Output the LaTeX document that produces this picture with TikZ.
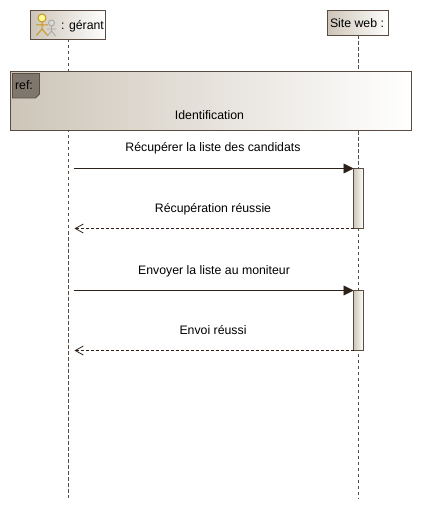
\documentclass[tikz,border=0pt]{standalone}
\usepackage{fontspec}
\setmainfont{Liberation Sans}
\usetikzlibrary{arrows.meta}
\definecolor{edgec}{HTML}{5A4C40}
\definecolor{fadec}{HTML}{CDC5B8}
\definecolor{tabc}{HTML}{7F776D}
\definecolor{inkc}{HTML}{2E2119}
\definecolor{goldc}{HTML}{C8961E}
\definecolor{greyc}{HTML}{A8A8A8}
\tikzset{
  x=1pt,y=-1pt,
  box/.style={draw=edgec,line width=0.9pt,left color=fadec,right color=white,shading angle=90},
  lifeline/.style={draw=edgec,line width=0.9pt,dash pattern=on 3.5pt off 2.5pt},
  callarrow/.style={draw=inkc,line width=0.9pt,-{Triangle[length=10pt,width=10pt]}},
  backarrow/.style={draw=inkc,line width=0.8pt,dash pattern=on 3pt off 2pt,-{Straight Barb[length=8pt,width=9pt]}},
  lbl/.style={font=\fontsize{12.3}{14}\selectfont,text=black,inner sep=0pt,anchor=base}
}
\begin{document}
\begin{tikzpicture}
\useasboundingbox (0,0) rectangle (421,510);
\fill[white] (0,0) rectangle (421,510);
% lifelines
\coordinate (g0) at (68.5,39);
\coordinate (g1) at (68.5,498);
\coordinate (s0) at (358.5,35.5);
\coordinate (s1) at (358.5,498);
\draw[lifeline] (g0) -- (g1);
\draw[lifeline] (s0) -- (s1);
% heads
\path[box] (30.5,10.5) rectangle (105.5,39.5);
\path[box] (327.5,10.5) rectangle (388.5,35.5);
\node[lbl] (gerant) at (82.5,30) {: gérant};
\node[lbl] (site) at (357,27.5) {Site web :};
% actor icons
\draw[greyc,line width=0.9pt,fill=black!15] (51.5,23) circle (3);
\draw[greyc,line width=0.9pt] (51.5,26) -- (51.5,31) (47,29) -- (56,29) (51.5,31) -- (47.5,36) (51.5,31) -- (55.5,36);
\draw[goldc,line width=1pt] (42,22) -- (42,29) (36,25) -- (48,25) (42,29) -- (36.5,35.5) (42,29) -- (47.5,35.5);
\draw[goldc,line width=1pt,fill=yellow!40] (42,18) circle (4);
% ref frame
\path[box] (10.5,71.5) rectangle (411.5,130.5);
\draw[edgec,line width=0.9pt,fill=tabc] (12.5,73.5) -- (39.5,73.5) -- (39.5,94) -- (35.5,98) -- (12.5,98) -- cycle;
\node[lbl] (reftxt) at (24,90) {ref:};
\node[lbl] (ident) at (209.5,120) {Identification};
% activations
\path[box] (353.5,168.5) rectangle (363.5,228);
\path[box] (353.5,290.5) rectangle (363.5,350);
% messages
\coordinate (m1a) at (73.5,168.5);
\coordinate (m1b) at (353.5,168.5);
\coordinate (m2a) at (353.5,228.5);
\coordinate (m2b) at (74.5,228.5);
\coordinate (m3a) at (73.5,290.5);
\coordinate (m3b) at (353.5,290.5);
\coordinate (m4a) at (353.5,350.5);
\coordinate (m4b) at (74.5,350.5);
\draw[callarrow] (m1a) -- (m1b);
\draw[backarrow] (m2a) -- (m2b);
\draw[callarrow] (m3a) -- (m3b);
\draw[backarrow] (m4a) -- (m4b);
\node[lbl] (t1) at (213,152) {Récupérer la liste des candidats};
\node[lbl] (t2) at (213,213) {Récupération réussie};
\node[lbl] (t3) at (214,274) {Envoyer la liste au moniteur};
\node[lbl] (t4) at (213,334.5) {Envoi réussi};
\end{tikzpicture}
\end{document}
